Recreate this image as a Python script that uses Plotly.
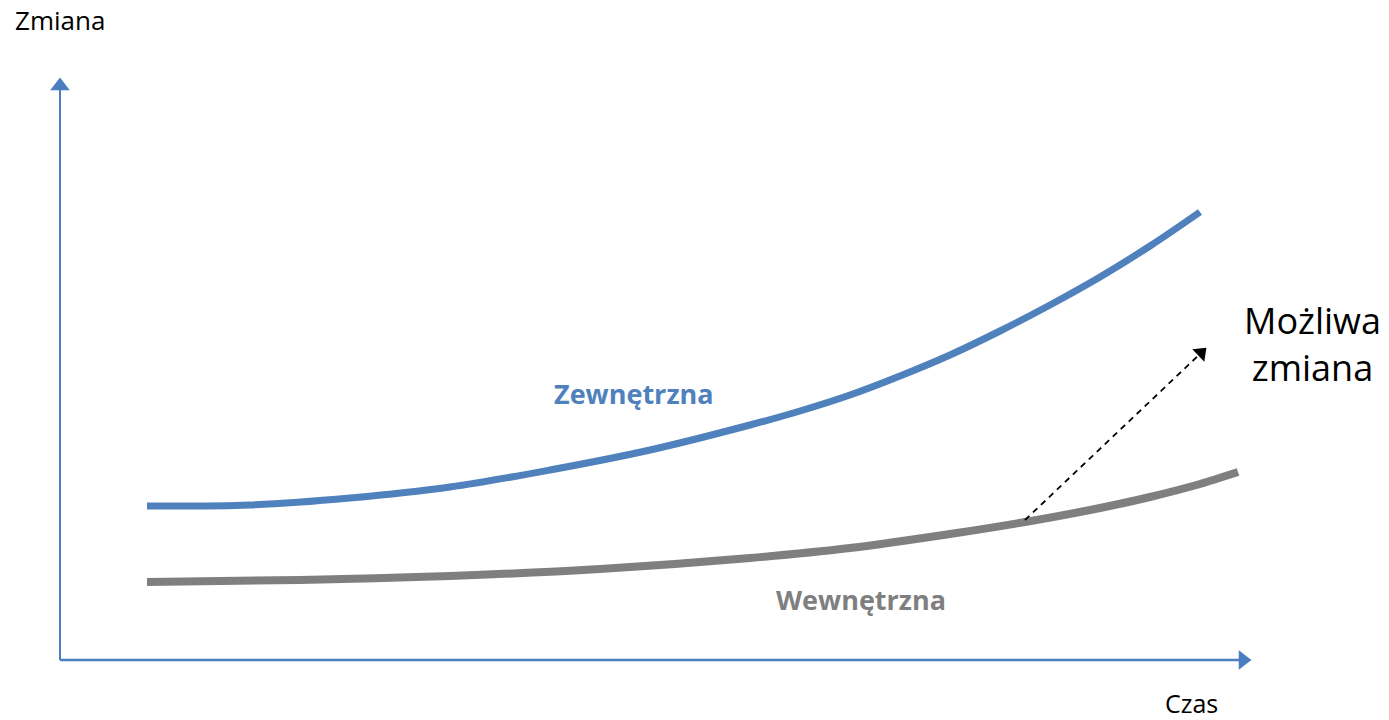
import plotly.graph_objects as go

# Data (x: time from origin, y: change from origin)
zew_x = [87, 190, 290, 390, 490, 590, 690, 740, 790, 840, 890, 940, 990, 1040, 1090, 1140]
zew_y = [154, 155, 162, 173, 190, 210, 235, 249, 265, 284, 305, 329, 355, 383, 414, 448]

wew_x = [87, 240, 390, 540, 690, 790, 890, 965, 1040, 1090, 1140, 1178]
wew_y = [78, 80, 84, 91, 102, 112, 126, 138, 152, 163, 176, 188]

trend_x = [965, 1141]
trend_y = [140, 307]

axis_x_end = 1183
axis_y_end = 574

BLUE = "#4f81bd"
AXIS = "#4a7ebf"
GRAY = "#7f7f7f"
FONT = "Open Sans"

fig = go.Figure()

# axes with arrowheads
fig.add_trace(go.Scatter(x=[0, 0], y=[0, axis_y_end], mode="lines+markers",
                         line=dict(color=AXIS, width=2),
                         marker=dict(symbol="triangle-up", size=[0, 17], angleref="previous",
                                     color=AXIS, opacity=1, line=dict(width=0)),
                         hoverinfo="skip", showlegend=False))
fig.add_trace(go.Scatter(x=[0, axis_x_end], y=[0, 0], mode="lines+markers",
                         line=dict(color=AXIS, width=2.5),
                         marker=dict(symbol="triangle-up", size=[0, 17], angleref="previous",
                                     color=AXIS, opacity=1, line=dict(width=0)),
                         hoverinfo="skip", showlegend=False))

# curves
fig.add_trace(go.Scatter(x=zew_x, y=zew_y, mode="lines",
                         line=dict(color=BLUE, width=7, shape="spline", smoothing=1.0),
                         name="Zewnętrzna", showlegend=False))
fig.add_trace(go.Scatter(x=wew_x, y=wew_y, mode="lines",
                         line=dict(color=GRAY, width=8, shape="spline", smoothing=0.8),
                         name="Wewnętrzna", showlegend=False))

# dashed possible change arrow
fig.add_trace(go.Scatter(x=trend_x, y=trend_y, mode="lines+markers",
                         line=dict(color="black", width=1.8, dash="6px,5px"),
                         marker=dict(symbol="triangle-up", size=[0, 15], angleref="previous",
                                     color="black", opacity=1, line=dict(width=0)),
                         hoverinfo="skip", showlegend=False))

ann = [
    dict(x=0, y=640, text="Zmiana", font=dict(size=26, color="black", family=FONT)),
    dict(x=1131, y=-43, text="Czas", font=dict(size=25, color="black", family=FONT)),
    dict(x=574, y=267, text="<b>Zewnętrzna</b>", font=dict(size=27, color=BLUE, family=FONT)),
    dict(x=801, y=61, text="<b>Wewnętrzna</b>", font=dict(size=27, color=GRAY, family=FONT)),
    dict(x=1252, y=316, text="Możliwa<br>zmiana", font=dict(size=36, color="black", family=FONT)),
]
for a in ann:
    fig.add_annotation(showarrow=False, xref="x", yref="y", **a)

fig.update_layout(
    width=1389, height=720,
    margin=dict(l=0, r=0, t=0, b=0),
    paper_bgcolor="white", plot_bgcolor="white",
    xaxis=dict(range=[-60, 1329], visible=False, fixedrange=True),
    yaxis=dict(range=[-60, 660], visible=False, fixedrange=True),
)

fig.write_html("out.html", config={"displayModeBar": False},
               post_script="document.body.style.margin='0px';document.body.style.overflow='hidden';")
